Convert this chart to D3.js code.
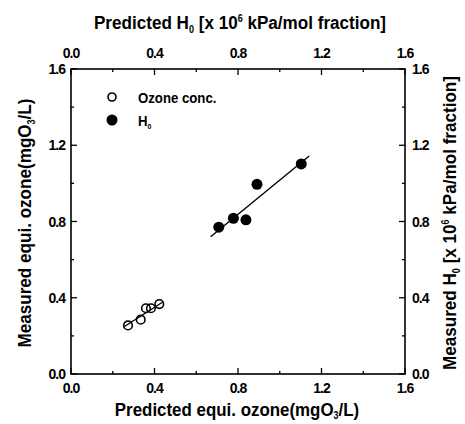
<!DOCTYPE html>
<html>
<head>
<meta charset="utf-8">
<script src="https://cdn.jsdelivr.net/npm/d3@7"></script>
<style>
	body { margin: 0; background: #fff; }
	text { font-family: "Liberation Sans", Arial, sans-serif; font-weight: bold; fill: #000; }
</style>
</head>
<body>
<div id="chart"></div>
<script>
// data
var ozone_pred = [0.273, 0.334, 0.359, 0.383, 0.423];
var ozone_meas = [0.255, 0.285, 0.345, 0.345, 0.367];
var ozone_fit = [[0.254, 0.248], [0.442, 0.379]];

var h0_pred = [0.708, 0.778, 0.838, 0.891, 1.103];
var h0_meas = [0.770, 0.817, 0.809, 0.995, 1.102];
var h0_fit = [[0.669, 0.720], [1.141, 1.144]];

var major_ticks = [0.0, 0.4, 0.8, 1.2, 1.6];
var minor_ticks = [0.2, 0.6, 1.0, 1.4];

var width = 465, height = 424;
var margin = { top: 69, right: 60, bottom: 50, left: 71 };
var w = 334, h = 305;

var svg = d3.select("#chart")
	.append("svg")
	.attr("width", width)
	.attr("height", height);

var g = svg.append("g")
	.attr("transform", "translate(" + margin.left + "," + margin.top + ")");

var x = d3.scaleLinear().domain([0, 1.6]).range([0, w]);
var y = d3.scaleLinear().domain([0, 1.6]).range([h, 0]);

var fmt = d3.format(".1f");

// frame
g.append("rect")
	.attr("width", w).attr("height", h)
	.attr("fill", "none").attr("stroke", "#000").attr("stroke-width", 1.6);

// ticks, all pointing inward
function ticks(axis, vals, len) {
	vals.forEach(function (v) {
		if (axis == "x") {
			g.append("line").attr("x1", x(v)).attr("x2", x(v)).attr("y1", h).attr("y2", h - len)
				.attr("stroke", "#000").attr("stroke-width", 1.3);
			g.append("line").attr("x1", x(v)).attr("x2", x(v)).attr("y1", 0).attr("y2", len)
				.attr("stroke", "#000").attr("stroke-width", 1.3);
		} else {
			g.append("line").attr("y1", y(v)).attr("y2", y(v)).attr("x1", 0).attr("x2", len)
				.attr("stroke", "#000").attr("stroke-width", 1.3);
			g.append("line").attr("y1", y(v)).attr("y2", y(v)).attr("x1", w).attr("x2", w - len)
				.attr("stroke", "#000").attr("stroke-width", 1.3);
		}
	});
}
ticks("x", major_ticks, 6);
ticks("x", minor_ticks, 3);
ticks("y", major_ticks, 6);
ticks("y", minor_ticks, 3);

// tick labels
var lab = g.append("g").style("font-size", "14px").attr("letter-spacing", "-1");
major_ticks.forEach(function (v) {
	lab.append("text").attr("x", x(v)).attr("y", h + 19).attr("text-anchor", "middle").text(fmt(v));
	lab.append("text").attr("x", x(v)).attr("y", -11).attr("text-anchor", "middle").text(fmt(v));
	lab.append("text").attr("x", -6).attr("y", y(v) + 5).attr("text-anchor", "end").text(fmt(v));
	lab.append("text").attr("x", w + 7).attr("y", y(v) + 5).attr("text-anchor", "start").text(fmt(v));
});

// fit lines
var line = d3.line().x(function (d) { return x(d[0]); }).y(function (d) { return y(d[1]); });
g.append("path").attr("d", line(ozone_fit)).attr("fill", "none").attr("stroke", "#000").attr("stroke-width", 1.4);
g.append("path").attr("d", line(h0_fit)).attr("fill", "none").attr("stroke", "#000").attr("stroke-width", 1.4);

// points
g.selectAll(".oz").data(ozone_pred).enter().append("circle")
	.attr("cx", function (d) { return x(d); })
	.attr("cy", function (d, i) { return y(ozone_meas[i]); })
	.attr("r", 4.3).attr("fill", "none").attr("stroke", "#000").attr("stroke-width", 1.6);

g.selectAll(".h0").data(h0_pred).enter().append("circle")
	.attr("cx", function (d) { return x(d); })
	.attr("cy", function (d, i) { return y(h0_meas[i]); })
	.attr("r", 5.5).attr("fill", "#000");

// legend
var leg = g.append("g").attr("transform", "translate(41,28)");
leg.append("circle").attr("cx", 0).attr("cy", 0).attr("r", 4).attr("fill", "none").attr("stroke", "#000").attr("stroke-width", 1.6);
leg.append("text").attr("transform", "translate(26,5.5) scale(0.88,1)").style("font-size", "15px").text("Ozone conc.");
leg.append("circle").attr("cx", 0).attr("cy", 23).attr("r", 5.5).attr("fill", "#000");
var lt = leg.append("text").attr("transform", "translate(26,29) scale(0.88,1)").style("font-size", "15px");
lt.append("tspan").text("H");
lt.append("tspan").attr("dy", 3).style("font-size", "8px").text("0");

// axis titles
function title(tr, parts) {
	var t = svg.append("text").attr("transform", tr).attr("text-anchor", "middle").style("font-size", "19px");
	parts.forEach(function (p) {
		var s = t.append("tspan").attr("dy", p[1]).text(p[0]);
		if (p[2]) s.style("font-size", "10px");
	});
}

title("translate(240,29) scale(0.9,1)",
	[["Predicted H", 0], ["0", 4, 1], [" [x 10", -4], ["6", -7, 1], [" kPa/mol fraction]", 7]]);
title("translate(237,416) scale(0.89,1)",
	[["Predicted equi. ozone(mgO", 0], ["3", 3, 1], ["/L)", -3]]);
title("translate(31,223) rotate(-90) scale(0.9,1)",
	[["Measured equi. ozone(mgO", 0], ["3", 4, 1], ["/L)", -4]]);
title("translate(456,223) rotate(-90) scale(0.9,1)",
	[["Measured H", 0], ["0", 4, 1], [" [x 10", -4], ["6", -7, 1], [" kPa/mol fraction]", 7]]);
</script>
</body>
</html>
